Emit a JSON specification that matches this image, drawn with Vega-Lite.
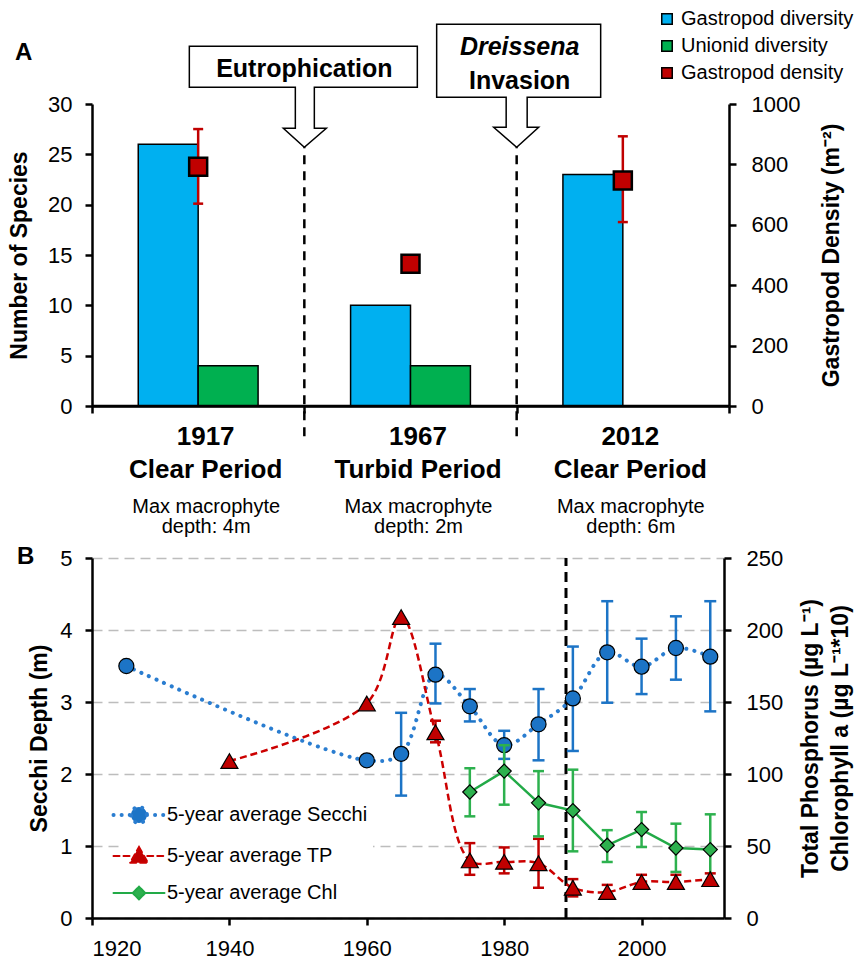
{
  "$schema": "https://vega.github.io/schema/vega-lite/v6.json",
  "padding": {"left": 8, "top": 9, "right": 0, "bottom": 4},
  "bounds": "flush",
  "spacing": 152,
  "resolve": {"scale": {"color": "independent", "shape": "independent"}, "legend": {"color": "independent", "shape": "independent"}},
  "config": {
    "font": "Liberation Sans",
    "view": {"stroke": null},
    "axis": {"domainColor": "#000", "domainWidth": 2.5, "tickColor": "#000", "tickWidth": 2.5, "tickSize": 7, "labelColor": "#000", "titleColor": "#000", "labelFontSize": 22, "titleFontSize": 23, "titleFontWeight": "bold", "grid": false, "labelPadding": 13},
    "legend": {"labelColor": "#000", "labelFont": "Liberation Sans", "labelLimit": 400},
    "title": {"color": "#000", "font": "Liberation Sans"}
  },
  "datasets": {
    "bars": [
      {"period": "1917", "series": "Gastropod diversity", "species": 26},
      {"period": "1917", "series": "Unionid diversity", "species": 4},
      {"period": "1967", "series": "Gastropod diversity", "species": 10},
      {"period": "1967", "series": "Unionid diversity", "species": 4},
      {"period": "2012", "series": "Gastropod diversity", "species": 23}
    ],
    "density": [
      {"period": "1917", "density": 792, "lo": 670, "hi": 917},
      {"period": "1967", "density": 471},
      {"period": "2012", "density": 747, "lo": 609, "hi": 893}
    ],
    "events": [
      {"period": "1967", "event": "Eutrophication", "line1": "Eutrophication"},
      {"period": "2012", "event": "Dreissena Invasion", "line1": "Dreissena", "line2": "Invasion"}
    ],
    "macro": [
      {"period": "1917", "depth": "Max macrophyte\ndepth: 4m"},
      {"period": "1967", "depth": "Max macrophyte\ndepth: 2m"},
      {"period": "2012", "depth": "Max macrophyte\ndepth: 6m"}
    ],
    "baseline": [{"species": 0}],
    "invasion": [{"year": 1989}],
    "lake": [
      {"year": 1925, "series": "5-year average Secchi", "value": 3.50},
      {"year": 1960, "series": "5-year average Secchi", "value": 2.19},
      {"year": 1965, "series": "5-year average Secchi", "value": 2.28, "lo": 1.70, "hi": 2.85},
      {"year": 1970, "series": "5-year average Secchi", "value": 3.38, "lo": 2.98, "hi": 3.81},
      {"year": 1975, "series": "5-year average Secchi", "value": 2.94, "lo": 2.73, "hi": 3.18},
      {"year": 1980, "series": "5-year average Secchi", "value": 2.40, "lo": 2.21, "hi": 2.60},
      {"year": 1985, "series": "5-year average Secchi", "value": 2.69, "lo": 2.19, "hi": 3.18},
      {"year": 1990, "series": "5-year average Secchi", "value": 3.05, "lo": 2.32, "hi": 3.77},
      {"year": 1995, "series": "5-year average Secchi", "value": 3.69, "lo": 2.99, "hi": 4.40},
      {"year": 2000, "series": "5-year average Secchi", "value": 3.49, "lo": 3.11, "hi": 3.88},
      {"year": 2005, "series": "5-year average Secchi", "value": 3.75, "lo": 3.31, "hi": 4.19},
      {"year": 2010, "series": "5-year average Secchi", "value": 3.63, "lo": 2.87, "hi": 4.40},
      {"year": 1940, "series": "5-year average TP", "value": 109},
      {"year": 1960, "series": "5-year average TP", "value": 149},
      {"year": 1965, "series": "5-year average TP", "value": 209},
      {"year": 1970, "series": "5-year average TP", "value": 129, "lo": 122, "hi": 137},
      {"year": 1975, "series": "5-year average TP", "value": 40, "lo": 30, "hi": 52},
      {"year": 1980, "series": "5-year average TP", "value": 39, "lo": 31, "hi": 49},
      {"year": 1985, "series": "5-year average TP", "value": 38, "lo": 21, "hi": 55},
      {"year": 1990, "series": "5-year average TP", "value": 21, "lo": 15, "hi": 27},
      {"year": 1995, "series": "5-year average TP", "value": 18, "lo": 14, "hi": 23},
      {"year": 2000, "series": "5-year average TP", "value": 25, "lo": 21, "hi": 30},
      {"year": 2005, "series": "5-year average TP", "value": 25, "lo": 21, "hi": 30},
      {"year": 2010, "series": "5-year average TP", "value": 27, "lo": 23, "hi": 31},
      {"year": 1975, "series": "5-year average Chl", "value": 87.5, "lo": 70.6, "hi": 104},
      {"year": 1980, "series": "5-year average Chl", "value": 102, "lo": 78.7, "hi": 120},
      {"year": 1985, "series": "5-year average Chl", "value": 80, "lo": 56.7, "hi": 102},
      {"year": 1990, "series": "5-year average Chl", "value": 74.6, "lo": 46.3, "hi": 103},
      {"year": 1995, "series": "5-year average Chl", "value": 50.5, "lo": 38.9, "hi": 61},
      {"year": 2000, "series": "5-year average Chl", "value": 61.4, "lo": 49.3, "hi": 73.6},
      {"year": 2005, "series": "5-year average Chl", "value": 48.6, "lo": 32, "hi": 65.5},
      {"year": 2010, "series": "5-year average Chl", "value": 47.5, "lo": 23.9, "hi": 72}
    ]
  },
  "vconcat": [
    {
      "width": 637,
      "height": 302,
      "title": {"text": "A", "anchor": "start", "frame": "group", "fontSize": 24, "fontWeight": "bold", "dx": -77, "dy": 60},
      "layer": [
        {
          "layer": [
            {
              "data": {"name": "bars"},
              "mark": {"type": "bar", "stroke": "#000", "strokeWidth": 1.5},
              "encoding": {
                "x": {"field": "period", "type": "nominal", "title": null, "scale": {"type": "band", "paddingInner": 0, "paddingOuter": 0},
                  "axis": {"title": null, "domain": true, "ticks": true, "labelAngle": 0, "labelExpr": "length(datum.label) > 0 ? [datum.label, datum.label == '1967' ? 'Turbid Period' : 'Clear Period'] : ''", "labelFontSize": 26, "labelFontWeight": "bold", "labelLineHeight": 33, "labelPadding": 10, "tickBand": "extent", "labelOffset": 7}},
                "xOffset": {"field": "series", "type": "nominal", "scale": {"domain": ["Gastropod diversity", "Unionid diversity"], "paddingInner": 0, "paddingOuter": 0.772}},
                "y": {"field": "species", "type": "quantitative", "scale": {"domain": [0, 30]}, "axis": {"title": "Number of Species", "values": [0, 5, 10, 15, 20, 25, 30], "titlePadding": 16}},
                "color": {"field": "series", "type": "nominal",
                  "scale": {"domain": ["Gastropod diversity", "Unionid diversity", "Gastropod density"], "range": ["#00B0F0", "#00B050", "#C00000"]},
                  "legend": {"title": null, "orient": "none", "legendX": 565, "legendY": -95, "padding": 0, "symbolType": "square", "symbolSize": 110, "symbolStrokeColor": "#000", "symbolStrokeWidth": 1.5, "symbolOpacity": 1, "labelFontSize": 20, "labelOffset": 4, "rowPadding": 7}}
              }
            },
            {
              "data": {"name": "baseline"},
              "mark": {"type": "rule", "strokeWidth": 2.5, "color": "#000"},
              "encoding": {
                "y": {"field": "species", "type": "quantitative"}
              }
            },
            {
              "data": {"name": "events"},
              "mark": {"type": "rule", "strokeDash": [9, 7], "strokeWidth": 2.5, "color": "#000"},
              "encoding": {
                "x": {"field": "period", "type": "nominal", "title": null, "bandPosition": 0},
                "y": {"datum": -3},
                "y2": {"datum": 25.7}
              }
            },
            {
              "data": {"name": "events"},
              "transform": [{"filter": "datum.period == '1967'"}],
              "mark": {"type": "point", "shape": "M-1.15,-1.01L1.13,-1.01L1.13,-0.6L0.1,-0.6L0.1,-0.19L0.22,-0.19L0,0L-0.21,-0.19L-0.09,-0.19L-0.09,-0.6L-1.15,-0.6Z", "size": 40000, "filled": true, "fill": "#fff", "stroke": "#000", "strokeWidth": 1.5, "opacity": 1},
              "encoding": {
                "x": {"field": "period", "type": "nominal", "title": null, "bandPosition": 0},
                "y": {"datum": 25.7}
              }
            },
            {
              "data": {"name": "events"},
              "transform": [{"filter": "datum.period == '2012'"}],
              "mark": {"type": "point", "shape": "M-0.8,-1.23L0.84,-1.23L0.84,-0.5L0.105,-0.5L0.105,-0.2L0.22,-0.2L0,0L-0.23,-0.2L-0.105,-0.2L-0.105,-0.5L-0.8,-0.5Z", "size": 40000, "filled": true, "fill": "#fff", "stroke": "#000", "strokeWidth": 1.5, "opacity": 1},
              "encoding": {
                "x": {"field": "period", "type": "nominal", "title": null, "bandPosition": 0},
                "y": {"datum": 25.7}
              }
            },
            {
              "data": {"name": "events"},
              "transform": [{"filter": "datum.period == '1967'"}],
              "mark": {"type": "text", "fontSize": 25, "fontWeight": "bold", "baseline": "alphabetic", "align": "center", "dy": -70, "color": "#000"},
              "encoding": {
                "x": {"field": "period", "type": "nominal", "title": null, "bandPosition": 0},
                "y": {"datum": 25.7},
                "text": {"field": "line1"}
              }
            },
            {
              "data": {"name": "events"},
              "transform": [{"filter": "datum.period == '2012'"}],
              "mark": {"type": "text", "fontSize": 25, "fontWeight": "bold", "fontStyle": "italic", "baseline": "alphabetic", "align": "center", "dy": -92, "dx": 3, "color": "#000"},
              "encoding": {
                "x": {"field": "period", "type": "nominal", "title": null, "bandPosition": 0},
                "y": {"datum": 25.7},
                "text": {"field": "line1"}
              }
            },
            {
              "data": {"name": "events"},
              "transform": [{"filter": "datum.period == '2012'"}],
              "mark": {"type": "text", "fontSize": 25, "fontWeight": "bold", "baseline": "alphabetic", "align": "center", "dy": -58, "dx": 3, "color": "#000"},
              "encoding": {
                "x": {"field": "period", "type": "nominal", "title": null, "bandPosition": 0},
                "y": {"datum": 25.7},
                "text": {"field": "line2"}
              }
            },
            {
              "data": {"name": "macro"},
              "mark": {"type": "text", "fontSize": 20, "baseline": "alphabetic", "align": "center", "lineBreak": "\n", "lineHeight": 20, "dy": 107, "dx": 8, "color": "#000"},
              "encoding": {
                "x": {"field": "period", "type": "nominal", "title": null},
                "y": {"datum": 0},
                "text": {"field": "depth"}
              }
            }
          ]
        },
        {
          "layer": [
            {
              "data": {"name": "density"},
              "transform": [{"filter": "isValid(datum.lo)"}],
              "mark": {"type": "rule", "color": "#C00000", "strokeWidth": 2.5},
              "encoding": {
                "x": {"field": "period", "type": "nominal", "title": null},
                "y": {"field": "lo", "type": "quantitative"},
                "y2": {"field": "hi"}
              }
            },
            {
              "data": {"name": "density"},
              "transform": [{"filter": "isValid(datum.lo)"}],
              "mark": {"type": "point", "shape": "stroke", "size": 100, "strokeWidth": 2.5, "color": "#C00000", "opacity": 1},
              "encoding": {
                "x": {"field": "period", "type": "nominal", "title": null},
                "y": {"field": "lo", "type": "quantitative"}
              }
            },
            {
              "data": {"name": "density"},
              "transform": [{"filter": "isValid(datum.hi)"}],
              "mark": {"type": "point", "shape": "stroke", "size": 100, "strokeWidth": 2.5, "color": "#C00000", "opacity": 1},
              "encoding": {
                "x": {"field": "period", "type": "nominal", "title": null},
                "y": {"field": "hi", "type": "quantitative"}
              }
            },
            {
              "data": {"name": "density"},
              "mark": {"type": "point", "shape": "square", "size": 324, "filled": true, "stroke": "#000", "strokeWidth": 2.5, "opacity": 1},
              "encoding": {
                "x": {"field": "period", "type": "nominal", "title": null},
                "y": {"field": "density", "type": "quantitative", "scale": {"domain": [0, 1000], "nice": false},
                  "axis": {"orient": "right", "title": "Gastropod Density (m⁻²)", "values": [0, 200, 400, 600, 800, 1000], "format": "d", "titleAngle": 270, "titlePadding": 44, "labelPadding": 15}},
                "color": {"datum": "Gastropod density"}
              }
            }
          ]
        }
      ],
      "resolve": {"scale": {"y": "independent"}}
    },
    {
      "width": 632,
      "height": 360,
      "title": {"text": "B", "anchor": "start", "frame": "group", "fontSize": 24, "fontWeight": "bold", "dx": -75, "dy": 26},
      "layer": [
        {
          "layer": [
            {
              "data": {"name": "invasion"},
              "mark": {"type": "rule", "strokeDash": [10, 6], "strokeWidth": 3, "color": "#000"},
              "encoding": {
                "x": {"field": "year", "type": "quantitative", "scale": {"domain": [1920, 2012], "nice": false, "zero": false},
                  "axis": {"title": null, "values": [1920, 1940, 1960, 1980, 2000], "format": "d", "labelPadding": 13}},
                "y": {"datum": 0},
                "y2": {"datum": 5}
              }
            },
            {
              "data": {"name": "lake"},
              "transform": [{"filter": "datum.series == '5-year average Secchi' && isValid(datum.lo)"}],
              "mark": {"type": "rule", "color": "#1C74C6", "strokeWidth": 2.5},
              "encoding": {
                "x": {"field": "year", "type": "quantitative"},
                "y": {"field": "lo", "type": "quantitative"},
                "y2": {"field": "hi"}
              }
            },
            {
              "data": {"name": "lake"},
              "transform": [{"filter": "datum.series == '5-year average Secchi' && isValid(datum.lo)"}],
              "mark": {"type": "point", "shape": "stroke", "size": 144, "strokeWidth": 2.5, "color": "#1C74C6", "opacity": 1},
              "encoding": {
                "x": {"field": "year", "type": "quantitative"},
                "y": {"field": "lo", "type": "quantitative"}
              }
            },
            {
              "data": {"name": "lake"},
              "transform": [{"filter": "datum.series == '5-year average Secchi' && isValid(datum.hi)"}],
              "mark": {"type": "point", "shape": "stroke", "size": 144, "strokeWidth": 2.5, "color": "#1C74C6", "opacity": 1},
              "encoding": {
                "x": {"field": "year", "type": "quantitative"},
                "y": {"field": "hi", "type": "quantitative"}
              }
            },
            {
              "data": {"name": "lake"},
              "transform": [{"filter": "datum.series == '5-year average Secchi'"}],
              "mark": {"type": "line", "interpolate": "catmull-rom", "color": "#2A7DD0", "strokeWidth": 4, "strokeDash": [0.1, 8.2], "strokeCap": "round"},
              "encoding": {
                "x": {"field": "year", "type": "quantitative"},
                "y": {"field": "value", "type": "quantitative"}
              }
            },
            {
              "data": {"name": "lake"},
              "transform": [{"filter": "datum.series == '5-year average Secchi'"}],
              "mark": {"type": "point", "shape": "circle", "filled": true, "size": 227, "fill": "#1C74C6", "stroke": "#000", "strokeWidth": 1.2, "opacity": 1},
              "encoding": {
                "x": {"field": "year", "type": "quantitative"},
                "y": {"field": "value", "type": "quantitative", "scale": {"domain": [0, 5], "nice": false},
                  "axis": {"title": "Secchi Depth (m)", "values": [0, 1, 2, 3, 4, 5], "format": "d", "grid": true, "gridDash": [10, 6], "gridColor": "#BDBDBD", "gridWidth": 1.5, "titlePadding": 8}}
              }
            },
            {
              "data": {"name": "lake"},
              "transform": [{"filter": "datum.series == '5-year average Secchi'"}],
              "mark": {"type": "point", "filled": true, "size": 900, "opacity": 0},
              "encoding": {
                "x": {"field": "year", "type": "quantitative"},
                "y": {"field": "value", "type": "quantitative"},
                "color": {"field": "series", "type": "nominal",
                  "scale": {"domain": ["5-year average Secchi", "5-year average TP", "5-year average Chl"], "range": ["#1C74C6", "#C00000", "#2DB14E"]},
                  "legend": {"title": null, "orient": "none", "legendX": 32, "legendY": 242, "padding": 5, "fillColor": "#fff", "symbolSize": 900, "labelFontSize": 20, "labelOffset": 18, "rowPadding": 7, "symbolOpacity": 1,
                    "encoding": {"symbols": {
                      "strokeDash": {"value": {"expr": "datum.value == '5-year average Secchi' ? [0.1, 8] : datum.value == '5-year average TP' ? [6, 4] : [1, 0]"}},
                      "strokeWidth": {"value": {"expr": "datum.value == '5-year average Secchi' ? 4 : 2"}},
                      "stroke": {"value": {"expr": "datum.value == '5-year average Secchi' ? '#2A7DD0' : datum.value == '5-year average TP' ? '#CC0000' : '#22AA47'"}},
                      "strokeCap": {"value": "round"}
                    }}}},
                "shape": {"field": "series", "type": "nominal",
                  "scale": {"domain": ["5-year average Secchi", "5-year average TP", "5-year average Chl"],
                    "range": ["M0,-0.7M0,0.7M-1.7,0L-0.53,0M0.53,0L1.7,0M0.53,0A0.53,0.53,0,1,1,-0.53,0A0.53,0.53,0,1,1,0.53,0Z", "M0,-0.7M0,0.7M-1.7,0L-0.55,0M0.55,0L1.7,0M0,-0.6L0.6,0.45L-0.6,0.45Z", "M0,-0.7M0,0.7M-1.7,0L-0.42,0M0.42,0L1.7,0M0,-0.42L0.42,0L0,0.42L-0.42,0Z"]},
                  "legend": {"title": null, "orient": "none", "legendX": 32, "legendY": 242, "padding": 5, "fillColor": "#fff", "symbolSize": 900, "labelFontSize": 20, "labelOffset": 18, "rowPadding": 7, "symbolOpacity": 1,
                    "encoding": {"symbols": {
                      "strokeDash": {"value": {"expr": "datum.value == '5-year average Secchi' ? [0.1, 8] : datum.value == '5-year average TP' ? [6, 4] : [1, 0]"}},
                      "strokeWidth": {"value": {"expr": "datum.value == '5-year average Secchi' ? 4 : 2"}},
                      "stroke": {"value": {"expr": "datum.value == '5-year average Secchi' ? '#2A7DD0' : datum.value == '5-year average TP' ? '#CC0000' : '#22AA47'"}},
                      "strokeCap": {"value": "round"}
                    }}}}
              }
            }
          ]
        },
        {
          "layer": [
            {
              "data": {"name": "lake"},
              "transform": [{"filter": "datum.series == '5-year average TP' && isValid(datum.lo)"}],
              "mark": {"type": "rule", "color": "#C00000", "strokeWidth": 2.5},
              "encoding": {
                "x": {"field": "year", "type": "quantitative"},
                "y": {"field": "lo", "type": "quantitative"},
                "y2": {"field": "hi"}
              }
            },
            {
              "data": {"name": "lake"},
              "transform": [{"filter": "datum.series == '5-year average TP' && isValid(datum.lo)"}],
              "mark": {"type": "point", "shape": "stroke", "size": 121, "strokeWidth": 2.5, "color": "#C00000", "opacity": 1},
              "encoding": {
                "x": {"field": "year", "type": "quantitative"},
                "y": {"field": "lo", "type": "quantitative"}
              }
            },
            {
              "data": {"name": "lake"},
              "transform": [{"filter": "datum.series == '5-year average TP' && isValid(datum.hi)"}],
              "mark": {"type": "point", "shape": "stroke", "size": 121, "strokeWidth": 2.5, "color": "#C00000", "opacity": 1},
              "encoding": {
                "x": {"field": "year", "type": "quantitative"},
                "y": {"field": "hi", "type": "quantitative"}
              }
            },
            {
              "data": {"name": "lake"},
              "transform": [{"filter": "datum.series == '5-year average TP'"}],
              "mark": {"type": "line", "interpolate": "catmull-rom", "color": "#CC0000", "strokeWidth": 2.5, "strokeDash": [7, 4]},
              "encoding": {
                "x": {"field": "year", "type": "quantitative"},
                "y": {"field": "value", "type": "quantitative"}
              }
            },
            {
              "data": {"name": "lake"},
              "transform": [{"filter": "datum.series == '5-year average Chl' && isValid(datum.lo)"}],
              "mark": {"type": "rule", "color": "#2DB14E", "strokeWidth": 2.5},
              "encoding": {
                "x": {"field": "year", "type": "quantitative"},
                "y": {"field": "lo", "type": "quantitative"},
                "y2": {"field": "hi"}
              }
            },
            {
              "data": {"name": "lake"},
              "transform": [{"filter": "datum.series == '5-year average Chl' && isValid(datum.lo)"}],
              "mark": {"type": "point", "shape": "stroke", "size": 121, "strokeWidth": 2.5, "color": "#2DB14E", "opacity": 1},
              "encoding": {
                "x": {"field": "year", "type": "quantitative"},
                "y": {"field": "lo", "type": "quantitative"}
              }
            },
            {
              "data": {"name": "lake"},
              "transform": [{"filter": "datum.series == '5-year average Chl' && isValid(datum.hi)"}],
              "mark": {"type": "point", "shape": "stroke", "size": 121, "strokeWidth": 2.5, "color": "#2DB14E", "opacity": 1},
              "encoding": {
                "x": {"field": "year", "type": "quantitative"},
                "y": {"field": "hi", "type": "quantitative"}
              }
            },
            {
              "data": {"name": "lake"},
              "transform": [{"filter": "datum.series == '5-year average Chl'"}],
              "mark": {"type": "line", "color": "#22AA47", "strokeWidth": 2.5},
              "encoding": {
                "x": {"field": "year", "type": "quantitative"},
                "y": {"field": "value", "type": "quantitative"}
              }
            },
            {
              "data": {"name": "lake"},
              "transform": [{"filter": "datum.series == '5-year average TP'"}],
              "mark": {"type": "point", "shape": "triangle-up", "filled": true, "size": 289, "fill": "#C00000", "stroke": "#000", "strokeWidth": 1.2, "opacity": 1},
              "encoding": {
                "x": {"field": "year", "type": "quantitative"},
                "y": {"field": "value", "type": "quantitative", "scale": {"domain": [0, 250], "nice": false},
                  "axis": {"orient": "right", "title": ["Total Phosphorus (µg L⁻¹)", "Chlorophyll a (µg L⁻¹*10)"], "values": [0, 50, 100, 150, 200, 250], "titleAngle": 270, "titleLineHeight": 30, "titlePadding": 10, "labelPadding": 15}}
              }
            },
            {
              "data": {"name": "lake"},
              "transform": [{"filter": "datum.series == '5-year average Chl'"}],
              "mark": {"type": "point", "shape": "diamond", "filled": true, "size": 200, "fill": "#2DB14E", "stroke": "#000", "strokeWidth": 1.2, "opacity": 1},
              "encoding": {
                "x": {"field": "year", "type": "quantitative"},
                "y": {"field": "value", "type": "quantitative"}
              }
            }
          ]
        }
      ],
      "resolve": {"scale": {"y": "independent"}}
    }
  ]
}
